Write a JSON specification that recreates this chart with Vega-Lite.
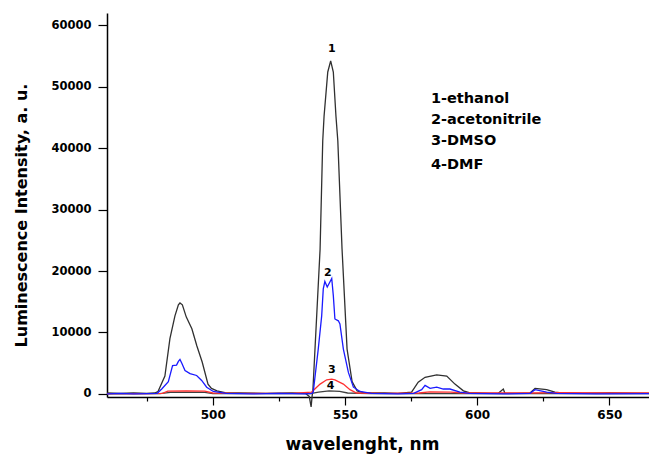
{
  "$schema": "https://vega.github.io/schema/vega-lite/v6.json",
  "width": 542,
  "height": 384,
  "autosize": "none",
  "padding": {"left": 107, "top": 13, "right": 0, "bottom": 59},
  "background": "white",
  "config": {"view": {"stroke": null}, "font": "DejaVu Sans"},
  "datasets": {
    "spectra": [
      {"s": "1", "wl": 460, "I": 150}, {"s": "1", "wl": 465, "I": 100}, {"s": "1", "wl": 470, "I": 150}, {"s": "1", "wl": 475, "I": 100}, {"s": "1", "wl": 478, "I": 150},
      {"s": "1", "wl": 479.3, "I": 400}, {"s": "1", "wl": 481.9, "I": 2900}, {"s": "1", "wl": 483.8, "I": 9000}, {"s": "1", "wl": 485.7, "I": 12700}, {"s": "1", "wl": 487, "I": 14500},
      {"s": "1", "wl": 487.6, "I": 14800}, {"s": "1", "wl": 488.5, "I": 14500}, {"s": "1", "wl": 490, "I": 12500}, {"s": "1", "wl": 492.1, "I": 10600}, {"s": "1", "wl": 494, "I": 7800},
      {"s": "1", "wl": 496, "I": 5200}, {"s": "1", "wl": 498.2, "I": 1600}, {"s": "1", "wl": 499.5, "I": 900}, {"s": "1", "wl": 501.6, "I": 500}, {"s": "1", "wl": 504.6, "I": 200},
      {"s": "1", "wl": 510, "I": 150}, {"s": "1", "wl": 520, "I": 100}, {"s": "1", "wl": 530, "I": 150}, {"s": "1", "wl": 535, "I": 100}, {"s": "1", "wl": 536.5, "I": -400},
      {"s": "1", "wl": 537.2, "I": -2100}, {"s": "1", "wl": 537.6, "I": -300}, {"s": "1", "wl": 537.9, "I": 800}, {"s": "1", "wl": 540.6, "I": 23600}, {"s": "1", "wl": 541.6, "I": 41200},
      {"s": "1", "wl": 542.1, "I": 45200}, {"s": "1", "wl": 543.5, "I": 52400}, {"s": "1", "wl": 544.6, "I": 54200}, {"s": "1", "wl": 545.6, "I": 52400}, {"s": "1", "wl": 546.6, "I": 45200},
      {"s": "1", "wl": 547.3, "I": 41200}, {"s": "1", "wl": 548.9, "I": 23600}, {"s": "1", "wl": 550.8, "I": 7300}, {"s": "1", "wl": 552.7, "I": 2000}, {"s": "1", "wl": 554.6, "I": 500},
      {"s": "1", "wl": 557, "I": 200}, {"s": "1", "wl": 565, "I": 150}, {"s": "1", "wl": 570, "I": 100}, {"s": "1", "wl": 575.2, "I": 300}, {"s": "1", "wl": 577.7, "I": 1900},
      {"s": "1", "wl": 580.3, "I": 2700}, {"s": "1", "wl": 584.7, "I": 3100}, {"s": "1", "wl": 588.5, "I": 2900}, {"s": "1", "wl": 591.6, "I": 1600}, {"s": "1", "wl": 594.8, "I": 500},
      {"s": "1", "wl": 597, "I": 200}, {"s": "1", "wl": 605, "I": 100}, {"s": "1", "wl": 608, "I": 100}, {"s": "1", "wl": 609.9, "I": 800}, {"s": "1", "wl": 610.5, "I": 100},
      {"s": "1", "wl": 615, "I": 100}, {"s": "1", "wl": 620, "I": 150}, {"s": "1", "wl": 621.9, "I": 900}, {"s": "1", "wl": 626.3, "I": 700}, {"s": "1", "wl": 629.4, "I": 300},
      {"s": "1", "wl": 632, "I": 150}, {"s": "1", "wl": 640, "I": 100}, {"s": "1", "wl": 650, "I": 150}, {"s": "1", "wl": 665, "I": 100},

      {"s": "4", "wl": 460, "I": 0}, {"s": "4", "wl": 480, "I": 50}, {"s": "4", "wl": 484, "I": 250}, {"s": "4", "wl": 497, "I": 250}, {"s": "4", "wl": 500, "I": 50},
      {"s": "4", "wl": 537, "I": 50}, {"s": "4", "wl": 540, "I": 300}, {"s": "4", "wl": 544, "I": 500}, {"s": "4", "wl": 548, "I": 400}, {"s": "4", "wl": 551, "I": 150},
      {"s": "4", "wl": 560, "I": 50}, {"s": "4", "wl": 665, "I": 50},

      {"s": "3", "wl": 460, "I": 50}, {"s": "3", "wl": 475, "I": 50}, {"s": "3", "wl": 481, "I": 100}, {"s": "3", "wl": 483, "I": 450}, {"s": "3", "wl": 490, "I": 500},
      {"s": "3", "wl": 497, "I": 450}, {"s": "3", "wl": 500, "I": 150}, {"s": "3", "wl": 510, "I": 80}, {"s": "3", "wl": 530, "I": 80}, {"s": "3", "wl": 537.4, "I": 300},
      {"s": "3", "wl": 540.6, "I": 1600}, {"s": "3", "wl": 543.1, "I": 2300}, {"s": "3", "wl": 545, "I": 2400}, {"s": "3", "wl": 546.2, "I": 2300}, {"s": "3", "wl": 549.4, "I": 1600},
      {"s": "3", "wl": 551.9, "I": 700}, {"s": "3", "wl": 554.4, "I": 150}, {"s": "3", "wl": 565, "I": 100}, {"s": "3", "wl": 578, "I": 150}, {"s": "3", "wl": 582, "I": 350},
      {"s": "3", "wl": 590, "I": 300}, {"s": "3", "wl": 595, "I": 150}, {"s": "3", "wl": 620, "I": 150}, {"s": "3", "wl": 630, "I": 200}, {"s": "3", "wl": 650, "I": 150},
      {"s": "3", "wl": 665, "I": 150},

      {"s": "2", "wl": 460, "I": 0}, {"s": "2", "wl": 465, "I": 100}, {"s": "2", "wl": 470, "I": 0}, {"s": "2", "wl": 475, "I": 50}, {"s": "2", "wl": 479, "I": 100},
      {"s": "2", "wl": 480.7, "I": 800}, {"s": "2", "wl": 483.2, "I": 2000}, {"s": "2", "wl": 484.8, "I": 4600}, {"s": "2", "wl": 486.3, "I": 4700}, {"s": "2", "wl": 487, "I": 5300},
      {"s": "2", "wl": 487.6, "I": 5600}, {"s": "2", "wl": 488.3, "I": 5000}, {"s": "2", "wl": 489.5, "I": 3800}, {"s": "2", "wl": 491.4, "I": 3300}, {"s": "2", "wl": 493.9, "I": 3000},
      {"s": "2", "wl": 495.8, "I": 2200}, {"s": "2", "wl": 497.7, "I": 1100}, {"s": "2", "wl": 500.2, "I": 400}, {"s": "2", "wl": 505, "I": 100}, {"s": "2", "wl": 515, "I": 0},
      {"s": "2", "wl": 525, "I": 100}, {"s": "2", "wl": 535, "I": 0}, {"s": "2", "wl": 537.5, "I": 100}, {"s": "2", "wl": 538, "I": 300}, {"s": "2", "wl": 539.9, "I": 7300},
      {"s": "2", "wl": 541.2, "I": 12700}, {"s": "2", "wl": 541.8, "I": 17100}, {"s": "2", "wl": 542.4, "I": 18300}, {"s": "2", "wl": 543.3, "I": 17400}, {"s": "2", "wl": 545, "I": 18800},
      {"s": "2", "wl": 545.6, "I": 16000}, {"s": "2", "wl": 546.2, "I": 12200}, {"s": "2", "wl": 547.5, "I": 11900}, {"s": "2", "wl": 548.1, "I": 11400}, {"s": "2", "wl": 549.4, "I": 7300},
      {"s": "2", "wl": 551.3, "I": 3500}, {"s": "2", "wl": 553.2, "I": 1100}, {"s": "2", "wl": 555.7, "I": 400}, {"s": "2", "wl": 560, "I": 100}, {"s": "2", "wl": 570, "I": 0},
      {"s": "2", "wl": 576, "I": 100}, {"s": "2", "wl": 579, "I": 700}, {"s": "2", "wl": 580.3, "I": 1400}, {"s": "2", "wl": 582.2, "I": 900}, {"s": "2", "wl": 584.7, "I": 1100},
      {"s": "2", "wl": 587.2, "I": 800}, {"s": "2", "wl": 589.7, "I": 800}, {"s": "2", "wl": 593.5, "I": 300}, {"s": "2", "wl": 597, "I": 100}, {"s": "2", "wl": 610, "I": 0},
      {"s": "2", "wl": 620, "I": 100}, {"s": "2", "wl": 621.9, "I": 700}, {"s": "2", "wl": 626.3, "I": 300}, {"s": "2", "wl": 630, "I": 100}, {"s": "2", "wl": 645, "I": 0},
      {"s": "2", "wl": 665, "I": 50}
    ],
    "legendText": [
      {"wl": 582.5, "I": 48000, "t": "1-ethanol"},
      {"wl": 582.5, "I": 44600, "t": "2-acetonitrile"},
      {"wl": 582.5, "I": 41100, "t": "3-DMSO"},
      {"wl": 582.5, "I": 37300, "t": "4-DMF"}
    ],
    "peakLabels": [
      {"wl": 545.0, "I": 56200, "t": "1"},
      {"wl": 543.5, "I": 19700, "t": "2"},
      {"wl": 545.0, "I": 3930, "t": "3"},
      {"wl": 544.6, "I": 1220, "t": "4"}
    ]
  },
  "layer": [
    {
      "data": {"name": "spectra"},
      "mark": {"type": "line", "strokeWidth": 1.3, "clip": false, "interpolate": "linear"},
      "encoding": {
        "x": {
          "field": "wl", "type": "quantitative",
          "scale": {"domain": [460, 665], "nice": false, "zero": false},
          "axis": {
            "values": [475, 500, 525, 550, 575, 600, 625, 650],
            "labelExpr": "datum.value % 50 === 0 ? datum.label : ''",
            "format": "d",
            "tickSize": {"condition": {"test": "datum.value % 50 === 0", "value": 8}, "value": 4},
            "tickColor": "#000", "tickWidth": 1.2,
            "domainColor": "#000", "domainWidth": 1.5,
            "grid": false,
            "labelFont": "DejaVu Sans", "labelFontWeight": "bold", "labelFontSize": 12, "labelColor": "#000",
            "labelPadding": 4,
            "title": "wavelenght, nm",
            "titleFont": "DejaVu Sans", "titleFontWeight": "bold", "titleFontSize": 17, "titleColor": "#000",
            "titleX": 255, "titleY": 52, "titleAnchor": null, "titleAlign": "center", "titleBaseline": "alphabetic"
          }
        },
        "y": {
          "field": "I", "type": "quantitative",
          "scale": {"domain": [-500, 62000], "nice": false, "zero": false},
          "axis": {
            "values": [0, 5000, 10000, 15000, 20000, 25000, 30000, 35000, 40000, 45000, 50000, 55000, 60000],
            "labelExpr": "datum.value % 10000 === 0 ? datum.label : ''",
            "format": "d",
            "tickSize": {"condition": {"test": "datum.value % 10000 === 0", "value": 9}, "value": 5},
            "tickColor": "#000", "tickWidth": 1.2,
            "domainColor": "#000", "domainWidth": 1.5,
            "grid": false,
            "labelFont": "DejaVu Sans", "labelFontWeight": "bold", "labelFontSize": 11.5, "labelColor": "#000",
            "labelPadding": 7,
            "title": "Luminescence Intensity, a. u.",
            "titleFont": "DejaVu Sans", "titleFontWeight": "bold", "titleFontSize": 16, "titleColor": "#000",
            "titleAngle": 270, "titleX": -86, "titleY": 202, "titleAnchor": null, "titleAlign": "center", "titleBaseline": "middle"
          }
        },
        "color": {
          "field": "s", "type": "nominal",
          "scale": {"domain": ["1", "4", "3", "2"], "range": ["#303030", "#404040", "#ff3030", "#1a1aff"]},
          "legend": null
        },
        "order": {"field": "wl", "type": "quantitative"}
      }
    },
    {
      "data": {"name": "legendText"},
      "mark": {"type": "text", "align": "left", "baseline": "middle", "font": "DejaVu Sans", "fontWeight": "bold", "fontSize": 14.5, "color": "#000"},
      "encoding": {
        "x": {"field": "wl", "type": "quantitative"},
        "y": {"field": "I", "type": "quantitative"},
        "text": {"field": "t"}
      }
    },
    {
      "data": {"name": "peakLabels"},
      "mark": {"type": "text", "align": "center", "baseline": "middle", "font": "DejaVu Sans", "fontWeight": "bold", "fontSize": 11, "color": "#000"},
      "encoding": {
        "x": {"field": "wl", "type": "quantitative"},
        "y": {"field": "I", "type": "quantitative"},
        "text": {"field": "t"}
      }
    }
  ]
}
